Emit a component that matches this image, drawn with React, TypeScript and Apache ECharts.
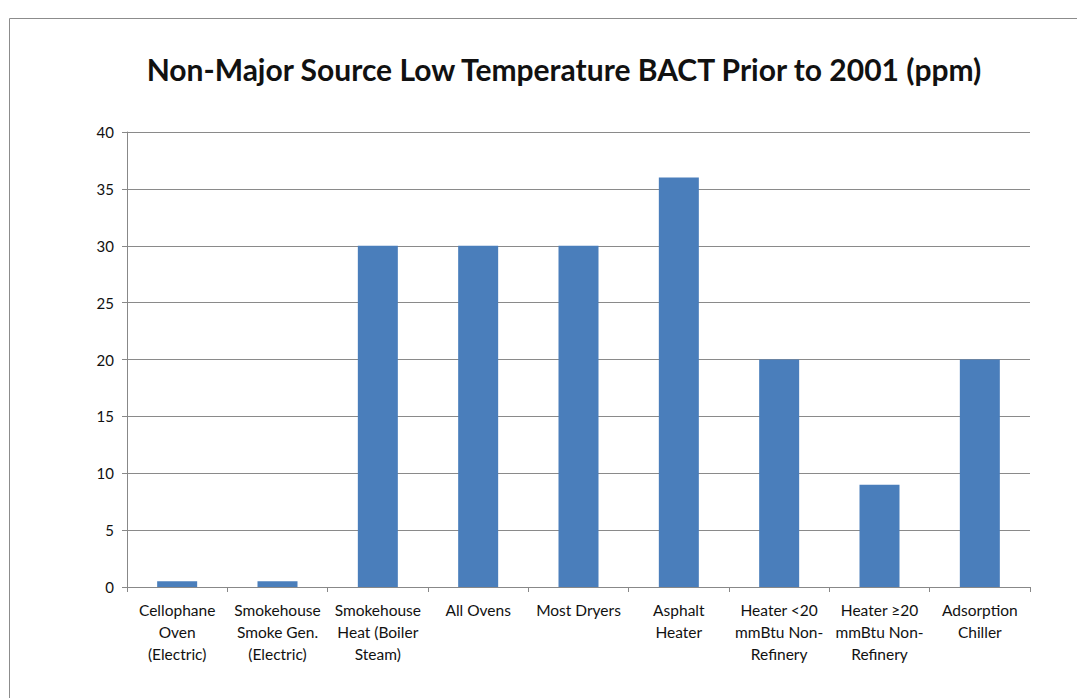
import React, { useEffect, useRef } from "react";
import * as echarts from "echarts";

const categories = [
  "Cellophane\nOven\n(Electric)",
  "Smokehouse\nSmoke Gen.\n(Electric)",
  "Smokehouse\nHeat (Boiler\nSteam)",
  "All Ovens",
  "Most Dryers",
  "Asphalt\nHeater",
  "Heater <20\nmmBtu Non-\nRefinery",
  "Heater ≥20\nmmBtu Non-\nRefinery",
  "Adsorption\nChiller",
];
const values = [0.5, 0.5, 30, 30, 30, 36, 20, 9, 20];
const titleText = "Non-Major Source Low Temperature BACT Prior to 2001 (ppm)";

export default function App() {
  const ref = useRef<HTMLDivElement>(null);
  useEffect(() => {
    if (!ref.current) return;
    const chart = echarts.init(ref.current, null, { renderer: "svg" });
    const font = "Lato, 'Open Sans', sans-serif";
    chart.setOption({
      animation: false,
      backgroundColor: "#ffffff",
      title: {
        text: titleText,
        left: 559,
        textAlign: "center",
        top: 49,
        textStyle: { fontFamily: font, fontSize: 30, fontWeight: "bold", color: "#111" },
      },
      graphic: [
        {
          type: "rect",
          shape: { x: 9.5, y: 18.5, width: 1100, height: 720 },
          style: { fill: "none", stroke: "#8c8c8c", lineWidth: 1 },
          silent: true,
        },
      ],
      grid: { left: 127, right: 47, top: 132, bottom: 111 },
      xAxis: {
        type: "category",
        data: categories,
        axisLine: { lineStyle: { color: "#888" } },
        axisTick: { show: true, alignWithLabel: false, length: 5, lineStyle: { color: "#888" } },
        axisLabel: {
          interval: 0,
          fontFamily: font,
          fontSize: 15.5,
          color: "#111",
          lineHeight: 22,
          margin: 12,
        },
      },
      yAxis: {
        type: "value",
        min: 0,
        max: 40,
        interval: 5,
        axisLine: { show: true, lineStyle: { color: "#888" } },
        axisTick: { show: true, length: 5, lineStyle: { color: "#888" } },
        splitLine: { lineStyle: { color: "#8a8a8a", width: 1 } },
        axisLabel: { fontFamily: font, fontSize: 15, color: "#111", margin: 13 },
      },
      series: [
        {
          type: "bar",
          data: values,
          barWidth: 40,
          itemStyle: { color: "#4a7ebb" },
        },
      ],
    });
    return () => chart.dispose();
  }, []);
  return (
    <div
      ref={ref}
      style={{ position: "fixed", left: 0, top: 0, width: 1077, height: 698 }}
    />
  );
}
